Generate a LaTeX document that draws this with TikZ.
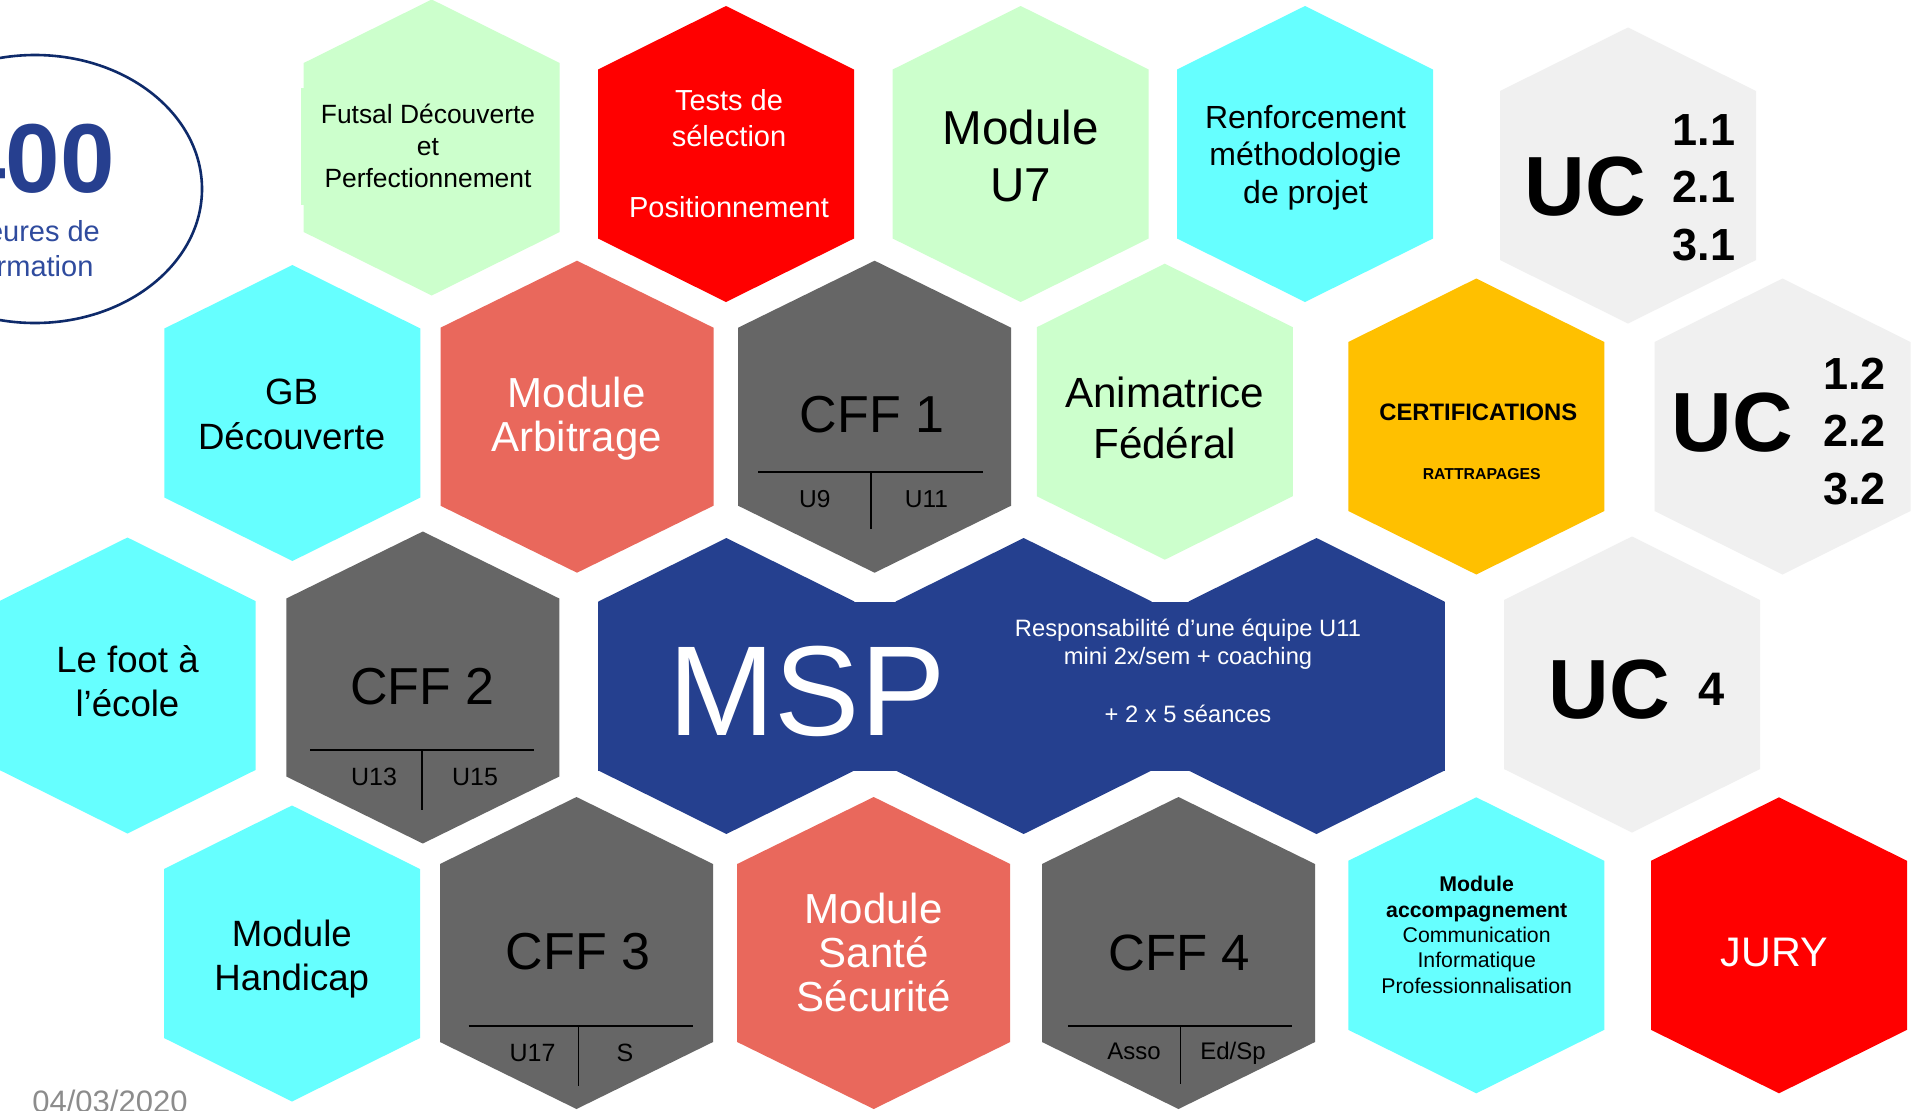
\documentclass[tikz,border=0pt]{standalone}
\usepackage{fontspec}
\setmainfont{Liberation Sans}
\definecolor{hgreen}{HTML}{CCFFCC}
\definecolor{hred}{HTML}{FF0000}
\definecolor{hcyan}{HTML}{66FFFF}
\definecolor{hlgray}{HTML}{F0F0F0}
\definecolor{horange}{HTML}{FFC000}
\definecolor{hsalmon}{HTML}{E9685C}
\definecolor{hdgray}{HTML}{666666}
\definecolor{hnavy}{HTML}{25408F}
\definecolor{ellstroke}{HTML}{0E2A6A}
\definecolor{bigblue}{HTML}{263F8F}
\definecolor{subblue}{HTML}{2F4B9E}
\definecolor{dategray}{HTML}{8C8C8C}
\newcommand\fs[2]{\fontsize{#1pt}{#2pt}\selectfont}
% small hexagon: name, x, y, colour
\newcommand\hexS[4]{\coordinate (#1) at (#2,#3);
  \fill[#4,shift={(#2,#3)}] (-128,-84.5) -- (0,-148) -- (128,-84.5) -- (128,84.5) -- (0,148) -- (-128,84.5) -- cycle;}
% large hexagon
\newcommand\hexL[4]{\coordinate (#1) at (#2,#3);
  \fill[#4,shift={(#2,#3)}] (-136.5,-89) -- (0,-156) -- (136.5,-89) -- (136.5,89) -- (0,156) -- (-136.5,89) -- cycle;}
\begin{document}
\begin{tikzpicture}[x=0.5pt,y=-0.5pt,
  lbl/.style={anchor=base,align=center,inner sep=0pt,outer sep=0pt},
  divline/.style={black,line width=0.8pt}]
\clip (0,0) rectangle (1913,1110);
\fill[white] (0,0) rectangle (1913,1110);

% ellipse with hours (multi-line nodes: base = last line's baseline)
\draw[ellstroke,line width=1.3pt] (35,189) ellipse [x radius=167,y radius=134];
\node[lbl,font=\fs{49}{49}\bfseries,text=bigblue] (hours) at (33,192) {400};
\node[lbl,font=\fs{14.5}{17.85},text=subblue] (hourstxt) at (33,276.7) {Heures de\\formation};

% row 1
\hexS{futsal}{431.7}{147.5}{hgreen}
\fill[hgreen] (300.5,88.3) rectangle (305,205);
\hexS{tests}{726}{154}{hred}
\hexS{u7}{1020.7}{154}{hgreen}
\hexS{renf}{1305}{154}{hcyan}
\hexS{uca}{1628}{175.5}{hlgray}
% row 2
\hexS{gb}{292.4}{413}{hcyan}
\hexL{arbitrage}{577}{416.7}{hsalmon}
\hexL{cffa}{874.6}{416.7}{hdgray}
\hexS{anim}{1164.8}{411.7}{hgreen}
\hexS{certif}{1476.3}{426.5}{horange}
\hexS{ucb}{1782.5}{426.5}{hlgray}
% row 3
\hexS{foot}{127.5}{685.5}{hcyan}
\hexL{cffb}{422.8}{687.5}{hdgray}
\hexS{mspa}{726.4}{686}{hnavy}
\hexS{mspb}{1023.7}{686}{hnavy}
\hexS{mspc}{1316.5}{686}{hnavy}
\fill[hnavy] (598.4,601.5) rectangle (1444.5,770.5);
\hexS{ucc}{1632}{684.5}{hlgray}
% row 4
\hexS{handi}{292}{953.5}{hcyan}
\hexL{cffc}{576.5}{953}{hdgray}
\hexL{sante}{873.7}{953}{hsalmon}
\hexL{cffd}{1178.5}{953}{hdgray}
\hexS{accomp}{1476.3}{945.3}{hcyan}
\hexS{jury}{1779}{945.3}{hred}

% texts row 1
\node[lbl,font=\fs{13.2}{16}] (tfutsal) at (428,187.3) {Futsal Découverte\\et\\Perfectionnement};
\node[lbl,font=\fs{14.5}{17.8},text=white] (ttests) at (729,217.3) {Tests de\\sélection\\\\Positionnement};
\node[lbl,font=\fs{23.8}{28.5}] (tu7) at (1020.5,201) {Module\\U7};
\node[lbl,font=\fs{16}{18.75}] (trenf) at (1305.5,203.3) {Renforcement\\méthodologie\\de projet};
\node[lbl,font=\fs{42}{42}\bfseries] (tuca) at (1585.3,215.5) {UC};
\node[lbl,font=\fs{22.5}{28.8}\bfseries] (tucanum) at (1704,260.2) {1.1\\2.1\\3.1};

% texts row 2
\node[lbl,font=\fs{18.3}{22.5}] (tgb) at (291.6,449.3) {GB\\Découverte};
\node[lbl,font=\fs{21}{21.85},text=white] (tarb) at (576.7,451) {Module\\Arbitrage};
\node[lbl,font=\fs{26}{26}] (tcffa) at (872,432.7) {CFF 1};
\draw[divline] (758.4,471.7) -- (983,471.7);
\draw[divline] (870.7,471.7) -- (870.7,529.3);
\node[lbl,font=\fs{12.25}{12.25}] (tu9) at (814.9,507.3) {U9};
\node[lbl,font=\fs{12.25}{12.25}] (tu11) at (926.4,507.3) {U11};
\node[lbl,font=\fs{21.1}{25.5}] (tanim) at (1164.8,458.3) {Animatrice\\Fédéral};
\node[lbl,font=\fs{11.9}{11.9}\bfseries] (tcert) at (1478.3,420) {CERTIFICATIONS};
\node[lbl,font=\fs{7.9}{7.9}\bfseries] (tratt) at (1481.7,479) {RATTRAPAGES};
\node[lbl,font=\fs{42}{42}\bfseries] (tucb) at (1732.5,451.6) {UC};
\node[lbl,font=\fs{22.5}{28.8}\bfseries] (tucbnum) at (1854.7,504.4) {1.2\\2.2\\3.2};

% texts row 3
\node[lbl,font=\fs{18.3}{22}] (tfoot) at (127.5,716.4) {Le foot à\\l’école};
\node[lbl,font=\fs{26}{26}] (tcffb) at (422.5,704.3) {CFF 2};
\draw[divline] (310,750) -- (534.4,750);
\draw[divline] (422,750) -- (422,810.4);
\node[lbl,font=\fs{12.5}{12.5}] (tu13) at (374,785.2) {U13};
\node[lbl,font=\fs{12.5}{12.5}] (tu15) at (475,785.2) {U15};
\node[lbl,font=\fs{64}{64},text=white] (tmsp) at (806.7,735) {MSP};
\node[lbl,font=\fs{11.85}{14.35},text=white] (tmspr) at (1188,722.3) {Responsabilité d’une équipe U11\\mini 2x/sem + coaching\\\\+ 2 x 5 séances};
\node[lbl,font=\fs{42}{42}\bfseries] (tucc) at (1609,718.3) {UC};
\node[lbl,font=\fs{23.5}{23.5}\bfseries] (tuccnum) at (1711.7,705) {4};

% texts row 4
\node[lbl,font=\fs{18.3}{22}] (thandi) at (291.8,990.3) {Module\\Handicap};
\node[lbl,font=\fs{26}{26}] (tcffc) at (578,969.6) {CFF 3};
\draw[divline] (468.7,1026) -- (693,1026);
\draw[divline] (578.4,1026) -- (578.4,1086);
\node[lbl,font=\fs{12.5}{12.5}] (tu17) at (532.5,1061.8) {U17};
\node[lbl,font=\fs{12.5}{12.5}] (ts) at (625,1061.8) {S};
\node[lbl,font=\fs{21}{22},text=white] (tsante) at (873.7,1011) {Module\\Santé\\Sécurité};
\node[lbl,font=\fs{25.5}{25.5}] (tcffd) at (1179.5,970) {CFF 4};
\draw[divline] (1068,1026) -- (1292.4,1026);
\draw[divline] (1180.5,1026) -- (1180.5,1084);
\node[lbl,font=\fs{12}{12}] (tasso) at (1134,1059.3) {Asso};
\node[lbl,font=\fs{12}{12}] (tedsp) at (1233,1059.3) {Ed/Sp};
\node[lbl,font=\fs{10.65}{12.7}] (taccomp) at (1476.7,993.3) {\textbf{Module}\\\textbf{accompagnement}\\Communication\\Informatique\\Professionnalisation};
\node[lbl,font=\fs{20.65}{20.65},text=white] (tjury) at (1774.3,966.7) {JURY};

% date
\node[anchor=base west,inner sep=0pt,font=\fs{15.5}{15.5},text=dategray] (date) at (32,1112) {04/03/2020};
\end{tikzpicture}
\end{document}
